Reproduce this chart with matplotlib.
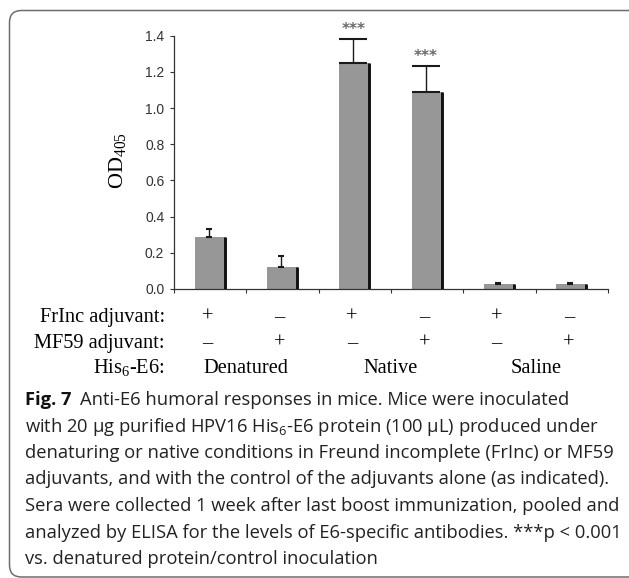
import matplotlib
matplotlib.use("Agg")
import matplotlib.pyplot as plt
import matplotlib.transforms as mtransforms
from matplotlib.patches import FancyBboxPatch

# ---- data ----
groups = ["Denatured", "Native", "Saline"]
frinc_signs = ["+", "\u2013", "+", "\u2013", "+", "\u2013"]
mf59_signs = ["\u2013", "+", "\u2013", "+", "\u2013", "+"]
od_means = [0.286, 0.123, 1.248, 1.087, 0.026, 0.026]
od_err = [0.044, 0.059, 0.134, 0.147, 0.009, 0.009]
signif = ["", "", "***", "***", "", ""]
yticks = [0.0, 0.2, 0.4, 0.6, 0.8, 1.0, 1.2, 1.4]
row_labels = ["FrInc adjuvant:", "MF59 adjuvant:", "His$\\mathregular{_6}$-E6:"]
caption_lines = [
    "Anti-E6 humoral responses in mice. Mice were inoculated",
    "with 20 \u00b5g purified HPV16 His$\\mathregular{_6}$-E6 protein (100 \u00b5L) produced under",
    "denaturing or native conditions in Freund incomplete (FrInc) or MF59",
    "adjuvants, and with the control of the adjuvants alone (as indicated).",
    "Sera were collected 1 week after last boost immunization, pooled and",
    "analyzed by ELISA for the levels of E6-specific antibodies. ***p < 0.001",
    "vs. denatured protein/control inoculation",
]

# ---- style ----
W, H, DPI = 629, 578, 100
fig = plt.figure(figsize=(W / DPI, H / DPI), dpi=DPI)
fig.patch.set_facecolor("white")

def fy(py):
    return (H - py) / H

ax = fig.add_axes([174 / W, fy(289), (608 - 174) / W, (289 - 35.7) / H])
n = len(od_means)
xs = list(range(n))
bw = 0.43
ax.bar(xs, od_means, width=bw, color="#979797", edgecolor="none", zorder=2)
for x, v in zip(xs, od_means):
    ax.plot([x + bw / 2 - 0.014, x + bw / 2 - 0.014], [0, v], color="#111111",
            lw=2.1, solid_capstyle="butt", zorder=3)
capsizes = [2.3, 2.0, 10.3, 10.3, 2.0, 2.0]
for x, v, e, cs in zip(xs, od_means, od_err, capsizes):
    ax.errorbar([x - 0.02], [v], yerr=[[0], [e]], fmt="none", ecolor="#1a1a1a",
                elinewidth=1.0, capsize=cs, capthick=1.5, zorder=4)
for x, v, e, s in zip(xs, od_means, od_err, signif):
    if s:
        ax.annotate(s, xy=(x - 0.02, v + e), xytext=(0, 1.5), textcoords="offset points",
                    ha="center", va="bottom", fontsize=11, color="#6a6a6a",
                    family="DejaVu Sans", fontweight="bold")

ax.set_xlim(-0.5, n - 0.5)
ax.set_ylim(0, 1.4)
ax.set_yticks(yticks)
ax.set_yticklabels([f"{t:.1f}" for t in yticks], family="Liberation Sans",
                   fontsize=10, color="#333333")
ax.set_xticks([i - 0.5 for i in range(n + 1)])
ax.set_xticklabels([])
ax.tick_params(axis="y", direction="out", length=3, width=0.8, pad=4, colors="#333333")
ax.tick_params(axis="x", direction="out", length=3, width=0.8, colors="#333333")
for sp in ["top", "right"]:
    ax.spines[sp].set_visible(False)
for sp in ["left", "bottom"]:
    ax.spines[sp].set_color("#333333")
    ax.spines[sp].set_linewidth(0.9)

fig.text(118 / W, fy(160), "OD$_{\\mathregular{405}}$", rotation=90, ha="center", va="center",
         family="Liberation Serif", fontsize=16)

# ---- table under axis ----
trans = mtransforms.blended_transform_factory(ax.transData, fig.transFigure)
row_base = [322, 348, 373]
tsize = 14.7
for lab, py in zip(row_labels, row_base):
    fig.text(165 / W, fy(py), lab, ha="right", va="baseline", family="Liberation Serif",
             fontsize=tsize)
for x, s1, s2 in zip(xs, frinc_signs, mf59_signs):
    ax.text(x - 0.04, fy(row_base[0]), s1, transform=trans, ha="center", va="baseline",
            family="Liberation Serif", fontsize=tsize)
    ax.text(x - 0.04, fy(row_base[1]), s2, transform=trans, ha="center", va="baseline",
            family="Liberation Serif", fontsize=tsize)
for gi, g in enumerate(groups):
    ax.text(2 * gi + 0.5, fy(row_base[2]), g, transform=trans, ha="center", va="baseline",
            family="Liberation Serif", fontsize=tsize)

# ---- caption ----
cap_font = "Open Sans"
cap_size = 13.2
cx = 25 / W
base0, step = 405, 26.5
t_fig = fig.text(cx, fy(base0), "Fig. 7", ha="left", va="baseline", family=cap_font,
                 fontsize=cap_size, fontweight="bold", color="#111111")
fig.canvas.draw()
bb = t_fig.get_window_extent()
for i, line in enumerate(caption_lines):
    x0 = (bb.x1 + 9) / W if i == 0 else cx
    fig.text(x0, fy(base0 + step * i), line, ha="left", va="baseline", family=cap_font,
             fontsize=cap_size, color="#222222")

# ---- rounded frame ----
frame = FancyBboxPatch((9.5, H - 577), 640, 577 - 10.5,
                       boxstyle="round,pad=0,rounding_size=12",
                       transform=None, facecolor="none", edgecolor="#6e6e6e", lw=1.1)
fig.patches.append(frame)

fig.savefig("out.png", dpi=DPI, facecolor="white")
